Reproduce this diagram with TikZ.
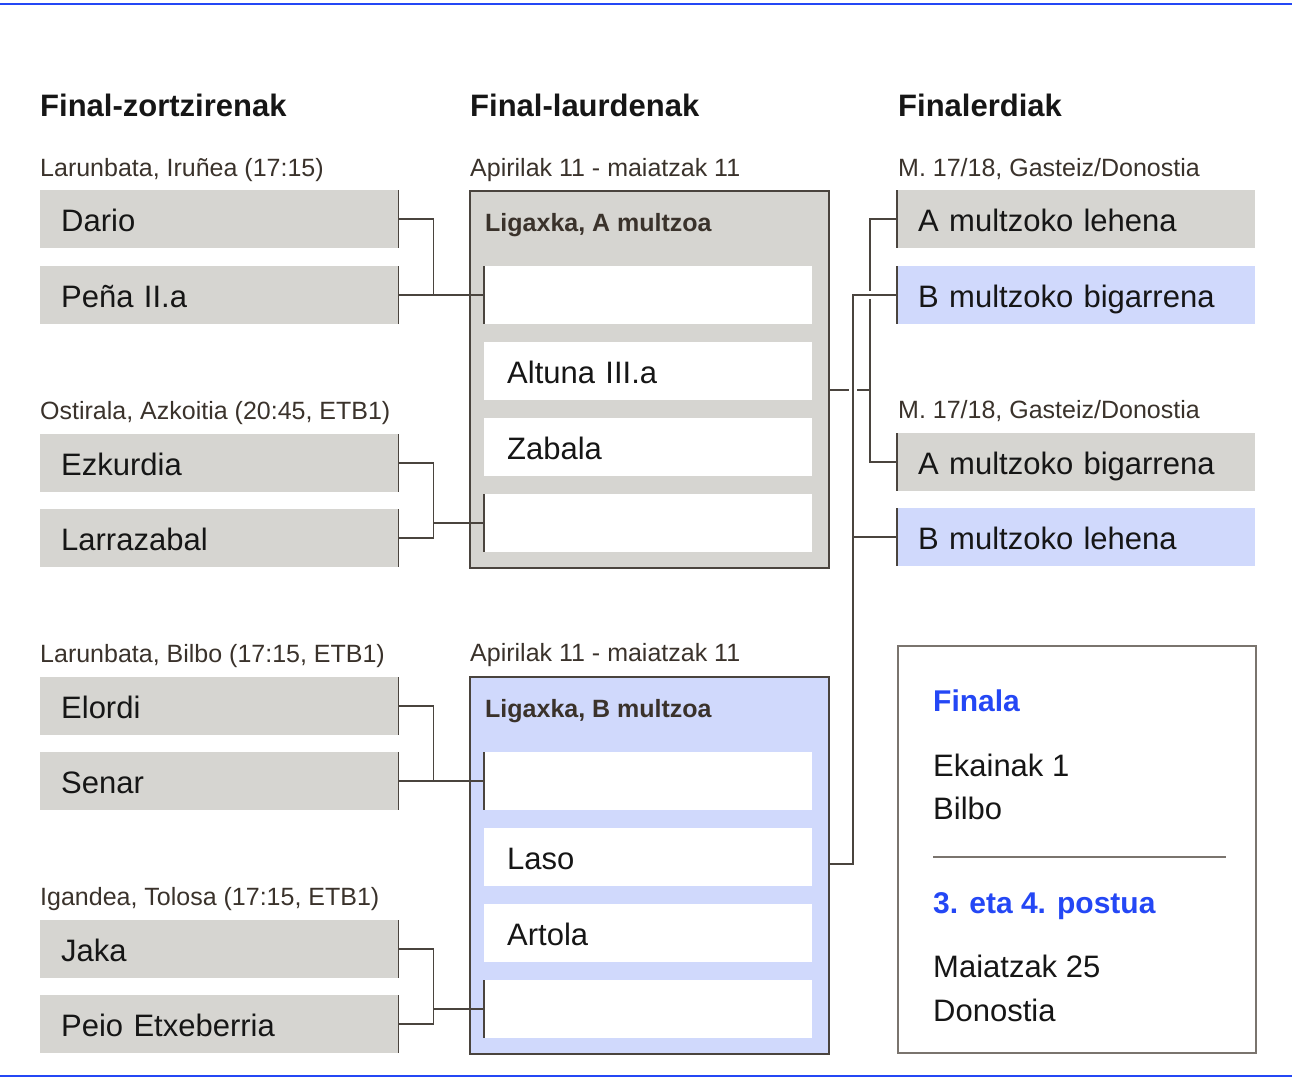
\documentclass[tikz,border=0pt]{standalone}
\usepackage{fontspec}
\setmainfont{Liberation Sans}

\definecolor{boxgrey}{HTML}{D6D5D1}
\definecolor{boxblue}{HTML}{D0D9FC}
\definecolor{linedark}{HTML}{4A443E}
\definecolor{rulegrey}{HTML}{7A746E}
\definecolor{accent}{HTML}{2447F5}
\definecolor{inkdark}{HTML}{161616}
\definecolor{inkbrown}{HTML}{3A322B}

\tikzset{
  player/.style={rectangle, fill=boxgrey, anchor=north west, minimum height=58pt,
    text width=316pt, inner xsep=21pt, inner ysep=0pt, align=left,
    font=\fontsize{31}{31}\selectfont, text height=25pt, text depth=0pt, text=inkdark},
  slot/.style={player, fill=white, text width=282pt, inner xsep=23pt},
  group/.style={rectangle, draw=linedark, line width=2pt, anchor=north west,
    minimum width=359pt, minimum height=377pt, inner sep=0pt},
  heading/.style={anchor=base west, inner sep=0pt, font=\bfseries\fontsize{31}{31}\selectfont, text=inkdark},
  dateline/.style={anchor=base west, inner sep=0pt, font=\fontsize{25}{25}\selectfont, text=inkbrown},
  grouptitle/.style={anchor=base west, inner sep=0pt, font=\bfseries\fontsize{25}{25}\selectfont, text=inkbrown},
  finaltitle/.style={anchor=base west, inner sep=0pt, font=\bfseries\fontsize{30}{30}\selectfont, text=accent},
  finaltext/.style={anchor=base west, inner sep=0pt, font=\fontsize{31}{31}\selectfont, text=inkdark},
  link/.style={draw=linedark, line width=1.5pt},
  edge/.style={draw=linedark, line width=1.5pt},
  halo/.style={preaction={draw=white, line width=8pt}},
}

\begin{document}
\begin{tikzpicture}[x=1pt, y=-1pt]
  \useasboundingbox (0,0) rectangle (1292,1080);
  \draw[accent, line width=2pt] (0,4) -- (1292,4);
  \draw[accent, line width=2pt] (0,1076) -- (1292,1076);

  % column headings
  \node[heading] (h16) at (40,116) {Final-zortzirenak};
  \node[heading] (h8) at (470,116) {Final-laurdenak};
  \node[heading] (h4) at (898,116) {Finalerdiak};

  \node[dateline] (d1) at (40,176) {Larunbata, Iruñea (17:15)};
  \node[dateline] (d2) at (40,419) {Ostirala, Azkoitia (20:45, ETB1)};
  \node[dateline] (d3) at (40,662) {Larunbata, Bilbo (17:15, ETB1)};
  \node[dateline] (d4) at (40,905) {Igandea, Tolosa (17:15, ETB1)};
  \node[dateline] (dA) at (470,176) {Apirilak 11 - maiatzak 11};
  \node[dateline] (dB) at (470,661) {Apirilak 11 - maiatzak 11};
  \node[dateline] (dS1) at (898,176) {M. 17/18, Gasteiz/Donostia};
  \node[dateline] (dS2) at (898,418) {M. 17/18, Gasteiz/Donostia};

  % eighth-finals
  \foreach \n/\y/\t in {dario/190/Dario, pena/266/{Peña II.a}, ezk/434/Ezkurdia,
      larr/509/Larrazabal, elordi/677/Elordi, senar/752/Senar, jaka/920/Jaka,
      peio/995/{Peio Etxeberria}}
    \node[player] (\n) at (40,\y) {\t};

  % groups
  \node[group, fill=boxgrey] (grpA) at (469,190) {};
  \node[grouptitle] (tA) at (485,231) {Ligaxka, A multzoa};
  \foreach \n/\y/\t in {slotA1/266/{}, slotA2/342/{Altuna III.a}, slotA3/418/Zabala, slotA4/494/{}}
    \node[slot] (\n) at (484,\y) {\t};

  \node[group, fill=boxblue] (grpB) at (469,676) {};
  \node[grouptitle] (tB) at (485,717) {Ligaxka, B multzoa};
  \foreach \n/\y/\t in {slotB1/752/{}, slotB2/828/Laso, slotB3/904/Artola, slotB4/980/{}}
    \node[slot] (\n) at (484,\y) {\t};

  % semifinals
  \node[player] (fA1) at (897,190) {A multzoko lehena};
  \node[player, fill=boxblue] (fB2) at (897,266) {B multzoko bigarrena};
  \node[player] (fA2) at (897,433) {A multzoko bigarrena};
  \node[player, fill=boxblue] (fB1) at (897,508) {B multzoko lehena};

  % final
  \node[rectangle, draw=rulegrey, line width=1.5pt, anchor=north west,
    minimum width=358pt, minimum height=407pt] (finalbox) at (897,645) {};
  \node[finaltitle] (fin) at (933,711) {Finala};
  \node[finaltext] (fin1) at (933,776) {Ekainak 1};
  \node[finaltext] (fin2) at (933,819) {Bilbo};
  \draw[rulegrey, line width=1.5pt] (933,857) -- (1226,857);
  \node[finaltitle] (third) at (933,913) {3. eta 4. postua};
  \node[finaltext] (third1) at (933,977) {Maiatzak 25};
  \node[finaltext] (third2) at (933,1021) {Donostia};

  % brackets
  \foreach \t/\b/\s in {dario/pena/slotA1, ezk/larr/slotA4, elordi/senar/slotB1, jaka/peio/slotB4}
    \draw[link] (\t.east) -- ++(35,0) coordinate (m) |- (\b.east) (m |- \s.west) -- (\s.west);

  \foreach \n in {dario,pena,ezk,larr,elordi,senar,jaka,peio}
    \draw[edge] (\n.north east) -- (\n.south east);
  \foreach \n in {slotA1,slotA4,slotB1,slotB4}
    \draw[edge] (\n.north west) -- (\n.south west);

  \coordinate (ajoin) at (870,390);
  \draw[link] (grpA.east |- ajoin) -- (ajoin) (fA1.west) -| (ajoin) |- (fA2.west);
  \coordinate (bjoin) at (853,864);
  \draw[link, halo] (grpB.east |- bjoin) -- (bjoin) |- (fB2.west) (bjoin |- fB1.west) -- (fB1.west);

  \foreach \n in {fA1,fB2,fA2,fB1}
    \draw[edge] (\n.north west) -- (\n.south west);
\end{tikzpicture}
\end{document}
